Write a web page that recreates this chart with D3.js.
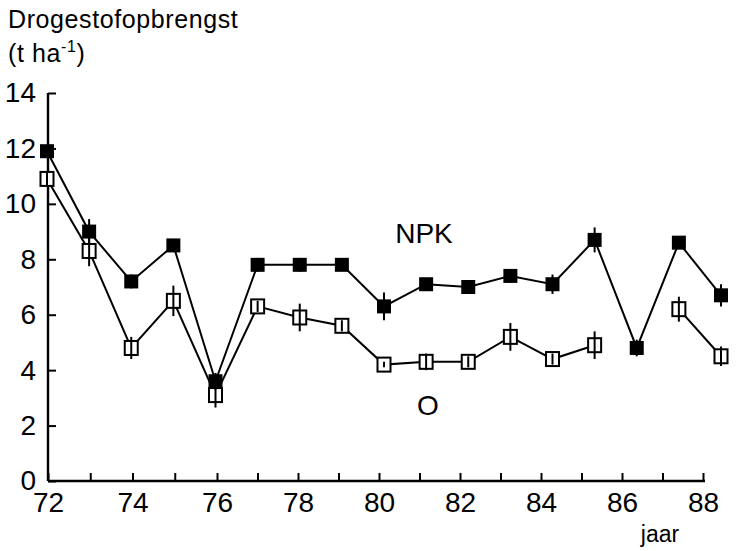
<!DOCTYPE html>
<html>
<head>
<meta charset="utf-8">
<script src="https://cdn.jsdelivr.net/npm/d3@7"></script>
<style>
  html, body { margin: 0; padding: 0; background: #fff; }
  svg { display: block; }
  text { font-family: "Liberation Sans", Arial, Helvetica, sans-serif; fill: #000; }
</style>
</head>
<body>
<svg id="chart" width="743" height="551"></svg>
<script>
// Dry matter yield per year, fertilised (NPK) and unfertilised (O) plots
const years  = [72, 73, 74, 75, 76, 77, 78, 79, 80, 81, 82, 83, 84, 85, 86, 87, 88];
const npk    = [11.9, 9.0, 7.2, 8.5, 3.6, 7.8, 7.8, 7.8, 6.3, 7.1, 7.0, 7.4, 7.1, 8.7, 4.8, 8.6, 6.7];
const npkErr = [0.2, 0.45, 0.25, 0.2, 0.3, 0.25, 0.25, 0.2, 0.5, 0.2, 0.15, 0.25, 0.35, 0.45, 0.3, 0.15, 0.4];
const zero   = [10.9, 8.3, 4.8, 6.5, 3.1, 6.3, 5.9, 5.6, 4.2, 4.3, 4.3, 5.2, 4.4, 4.9, null, 6.2, 4.5];
const zeroErr= [0.25, 0.55, 0.4, 0.55, 0.45, 0.2, 0.5, 0.2, 0.1, 0.3, 0.2, 0.5, 0.2, 0.5, null, 0.45, 0.35];
const yTicks = [0, 2, 4, 6, 8, 10, 12, 14];
const xTicks = d3.range(72, 89);

const svg = d3.select("#chart");

// point positions and axis tick positions
const x = d3.scaleLinear().domain([72, 88]).range([47, 721]);
const xAxisScale = d3.scaleLinear().domain([72, 76, 88]).range([48, 217, 703]);
const y = d3.scaleLinear().domain([0, 14]).range([481, 93]);

// y axis
const yAxis = svg.append("g")
  .attr("transform", "translate(48,0)")
  .call(d3.axisLeft(y).tickValues(yTicks).tickSize(-8).tickSizeOuter(0).tickPadding(12));
yAxis.select(".domain").attr("stroke-width", 2.4).attr("d", `M0,${y(0)}V${y(14)}`);
yAxis.selectAll(".tick line").attr("stroke-width", 2);
yAxis.selectAll(".tick text")
  .attr("font-size", 28).attr("font-family", "Liberation Sans, Arial, sans-serif");

// x axis
const xAxis = svg.append("g")
  .attr("transform", `translate(0,${y(0)})`)
  .call(d3.axisBottom(xAxisScale).tickValues(xTicks)
    .tickFormat(d => d % 2 === 0 ? d : "")
    .tickSize(-8).tickSizeOuter(0).tickPadding(11));
xAxis.select(".domain").attr("stroke-width", 2.4).attr("d", `M${xAxisScale(72)},0H${xAxisScale(88) + 2}`);
xAxis.selectAll(".tick line").attr("stroke-width", 2);
xAxis.selectAll(".tick text")
  .attr("font-size", 28).attr("font-family", "Liberation Sans, Arial, sans-serif");

// titles
svg.append("text").attr("x", 8).attr("y", 28).attr("font-size", 25)
  .attr("letter-spacing", 0.6).text("Drogestofopbrengst");
const unit = svg.append("text").attr("x", 8).attr("y", 62).attr("font-size", 25)
  .attr("letter-spacing", 0.6);
unit.append("tspan").text("(t ha");
unit.append("tspan").attr("font-size", 16).attr("dy", -10).text("-1");
unit.append("tspan").attr("dy", 10).text(")");

svg.append("text").attr("x", 660).attr("y", 542).attr("font-size", 23)
  .attr("text-anchor", "middle").text("jaar");

svg.append("text").attr("x", 424).attr("y", 243).attr("font-size", 28)
  .attr("text-anchor", "middle").text("NPK");
svg.append("text").attr("x", 428).attr("y", 415).attr("font-size", 28)
  .attr("text-anchor", "middle").text("O");

// series
const npkData = years.map((yr, i) => ({ yr, v: npk[i], e: npkErr[i] }));
const zeroData = years.map((yr, i) => ({ yr, v: zero[i], e: zeroErr[i] }));

const line = d3.line()
  .defined(d => d.v != null)
  .x(d => x(d.yr))
  .y(d => y(d.v));

svg.append("path").datum(zeroData).attr("d", line)
  .attr("fill", "none").attr("stroke", "#000").attr("stroke-width", 2);
svg.append("path").datum(npkData).attr("d", line)
  .attr("fill", "none").attr("stroke", "#000").attr("stroke-width", 2);

const zeroPts = zeroData.filter(d => d.v != null);

// open squares with their error bars on top
svg.append("g").selectAll("rect").data(zeroPts).join("rect")
  .attr("x", d => x(d.yr) - 6.5).attr("y", d => y(d.v) - 7)
  .attr("width", 13).attr("height", 14)
  .attr("fill", "#fff").attr("stroke", "#000").attr("stroke-width", 2);
svg.append("g").selectAll("line").data(zeroPts).join("line")
  .attr("x1", d => x(d.yr)).attr("x2", d => x(d.yr))
  .attr("y1", d => y(d.v + d.e)).attr("y2", d => y(d.v - d.e))
  .attr("stroke", "#000").attr("stroke-width", 2);

// filled squares
svg.append("g").selectAll("line").data(npkData).join("line")
  .attr("x1", d => x(d.yr)).attr("x2", d => x(d.yr))
  .attr("y1", d => y(d.v + d.e)).attr("y2", d => y(d.v - d.e))
  .attr("stroke", "#000").attr("stroke-width", 2);
svg.append("g").selectAll("rect").data(npkData).join("rect")
  .attr("x", d => x(d.yr) - 7).attr("y", d => y(d.v) - 7)
  .attr("width", 14).attr("height", 14)
  .attr("fill", "#000");
</script>
</body>
</html>
